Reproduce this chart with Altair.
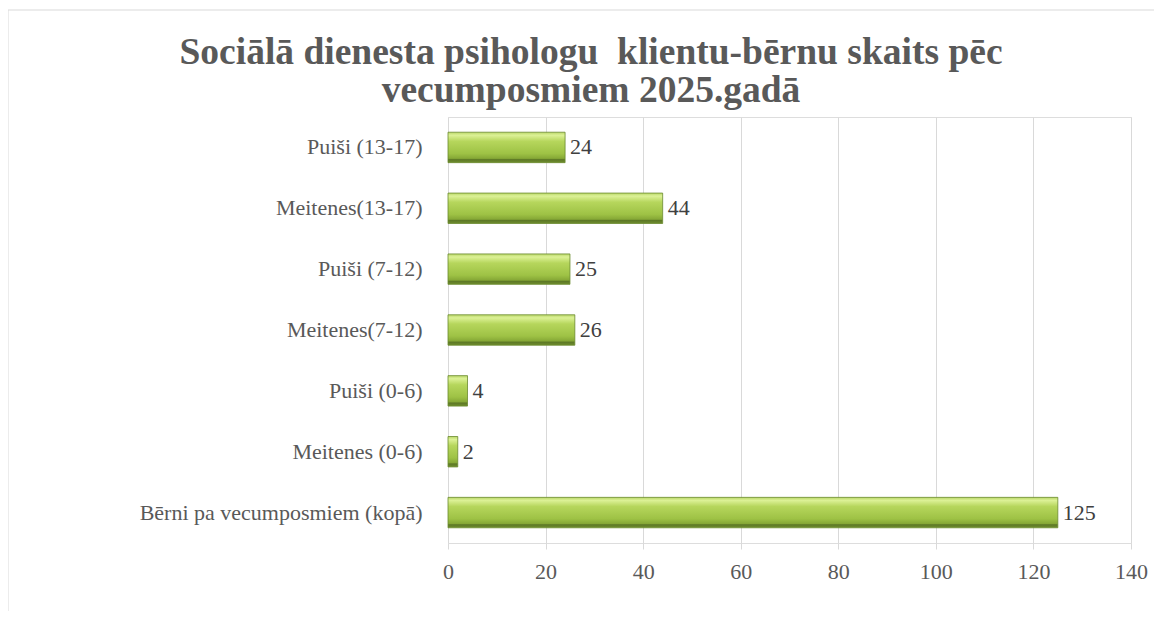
import altair as alt
import pandas as pd

categories = [
    "Puiši (13-17)",
    "Meitenes(13-17)",
    "Puiši (7-12)",
    "Meitenes(7-12)",
    "Puiši (0-6)",
    "Meitenes (0-6)",
    "Bērni pa vecumposmiem (kopā)",
]
values = [24, 44, 25, 26, 4, 2, 125]
x_ticks = [0, 20, 40, 60, 80, 100, 120, 140]
title_lines = [
    "Sociālā dienesta psihologu\u00a0 klientu-bērnu skaits pēc",
    "vecumposmiem 2025.gadā",
]

df = pd.DataFrame({"category": categories, "value": values})

FONT = "Liberation Serif"
W, H = 683, 426
PAD_L, PAD_T, PAD_R, PAD_B = 440, 109, 23, 68

y_enc = alt.Y(
    "category:N",
    sort=categories,
    scale=alt.Scale(paddingInner=0.5, paddingOuter=0.25),
    axis=alt.Axis(
        title=None, domain=False, ticks=False, grid=False,
        labelFont=FONT, labelFontSize=22, labelColor="#595959",
        labelPadding=26, labelLimit=400,
    ),
)
x_enc = alt.X(
    "value:Q",
    scale=alt.Scale(domain=[0, 140], nice=False),
    axis=alt.Axis(
        values=x_ticks, title=None, domain=False, grid=True,
        gridColor="#d9d9d9", gridWidth=1, ticks=True, tickColor="#d9d9d9",
        tickSize=6, labelFont=FONT, labelFontSize=22, labelColor="#595959",
        labelPadding=12, labelFlush=False,
    ),
)

gradient = alt.Gradient(
    gradient="linear", x1=0, y1=0, x2=0, y2=1,
    stops=[
        alt.GradientStop(offset=0.0, color="#b9d768"),
        alt.GradientStop(offset=0.1, color="#dcf196"),
        alt.GradientStop(offset=0.3, color="#b6d65c"),
        alt.GradientStop(offset=0.7, color="#9ec245"),
        alt.GradientStop(offset=0.86, color="#86a836"),
        alt.GradientStop(offset=0.9, color="#5d7826"),
        alt.GradientStop(offset=1.0, color="#6f8e2e"),
    ],
)

bars = alt.Chart(df).mark_bar(fill=gradient, stroke="#6b8a2e", strokeWidth=0.8).encode(
    x=x_enc, y=y_enc
)
labels = alt.Chart(df).mark_text(
    align="left", baseline="middle", dx=5, font=FONT, fontSize=22, color="#404040"
).encode(
    x=alt.X("value:Q"),
    y=alt.Y("category:N", sort=categories),
    text=alt.Text("value:Q"),
)

single = pd.DataFrame({"b": [0]})
top_border = alt.Chart(single).mark_rule(color="#d9d9d9", strokeWidth=1).encode(
    x=alt.value(-PAD_L), x2=alt.value(W + PAD_R), y=alt.value(-PAD_T + 2)
)
left_border = alt.Chart(single).mark_rule(color="#d9d9d9", strokeWidth=1).encode(
    x=alt.value(-PAD_L), y=alt.value(-PAD_T + 2), y2=alt.value(H + PAD_B)
)
title = alt.Chart(single).mark_text(
    text=title_lines, font=FONT, fontSize=37.5, fontWeight="bold", color="#595959",
    align="center", baseline="alphabetic", lineHeight=38,
).encode(x=alt.value(591 - 448), y=alt.value(64 - 117))

chart = alt.layer(top_border, left_border, title, bars, labels).properties(
    width=W,
    height=H,
    autosize=alt.AutoSizeParams(type="none"),
    padding={"left": PAD_L, "top": PAD_T, "right": PAD_R, "bottom": PAD_B},
).configure_view(stroke=None).configure(background="white")

chart.save("out.html", embed_options={"renderer": "svg", "actions": False})
